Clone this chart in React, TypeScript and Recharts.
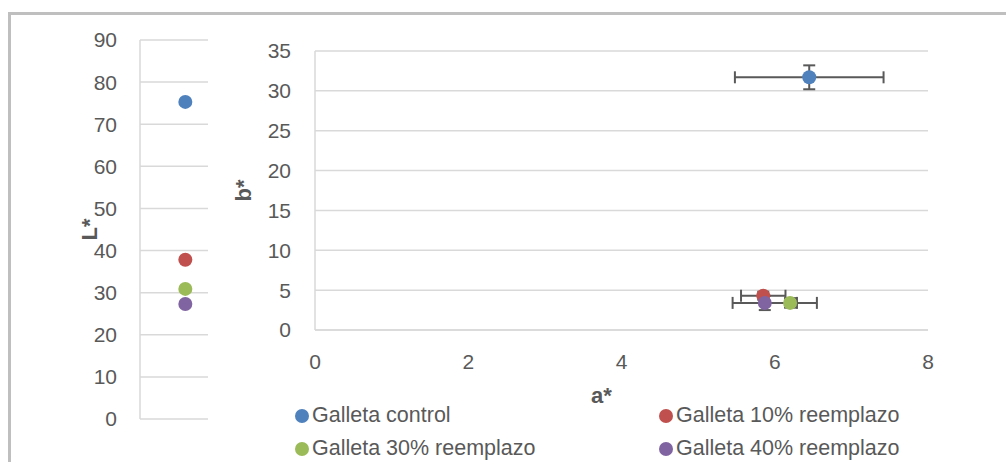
import {
  ScatterChart,
  Scatter,
  XAxis,
  YAxis,
  CartesianGrid,
  ErrorBar,
} from "recharts";

const SERIES = [
  "Galleta control",
  "Galleta 10% reemplazo",
  "Galleta 30% reemplazo",
  "Galleta 40% reemplazo",
];
const COLORS = ["#4f81bd", "#c0504d", "#9bbb59", "#8064a2"];

// L* (luminosity)
const L_VALUES = [75.3, 37.8, 30.9, 27.3];

// a* / b* with standard deviations
const A_VALUES = [6.45, 5.85, 6.2, 5.87];
const B_VALUES = [31.7, 4.3, 3.4, 3.4];
const A_ERR = [0.97, 0.29, 0.35, 0.42];
const B_ERR = [1.5, 0.5, 0.6, 0.9];

const L_TICKS = [0, 10, 20, 30, 40, 50, 60, 70, 80, 90];
const B_TICKS = [0, 5, 10, 15, 20, 25, 30, 35];
const A_TICKS = [0, 2, 4, 6, 8];

const FONT = "'Liberation Sans', Arial, sans-serif";
const TEXT = "#595959";
const GRID = "#d9d9d9";
const tickStyle = { fill: TEXT, fontSize: 21, fontFamily: FONT };
const titleStyle = {
  fill: TEXT,
  fontSize: 22,
  fontWeight: 700,
  fontFamily: FONT,
};

// Excel-style round marker
const dot = (color: string) => (p: any) =>
  <circle cx={p.cx} cy={p.cy} r={7} fill={color} />;

export default function App() {
  const leftData = L_VALUES.map((l) => [{ x: 1, l }]);
  const rightData = SERIES.map((_, i) => [
    { a: A_VALUES[i], b: B_VALUES[i], ea: A_ERR[i], eb: B_ERR[i] },
  ]);

  return (
    <div
      style={{
        position: "absolute",
        left: 0,
        top: 0,
        width: 1006,
        height: 462,
        overflow: "hidden",
        background: "#fff",
        fontFamily: FONT,
      }}
    >
      {/* frame */}
      <div
        style={{
          position: "absolute",
          left: 8,
          top: 12,
          width: 1100,
          height: 600,
          border: "3px solid #bfbfbf",
        }}
      />

      {/* L* panel */}
      <div style={{ position: "absolute", left: 0, top: 0 }}>
        <ScatterChart
          width={220}
          height={462}
          margin={{ top: 40, right: 12, bottom: 43, left: 80 }}
        >
          <CartesianGrid vertical={false} stroke={GRID} strokeWidth={1.5} />
          <XAxis type="number" dataKey="x" domain={[0, 1.5]} hide />
          <YAxis
            type="number"
            dataKey="l"
            width={60}
            domain={[0, 90]}
            ticks={L_TICKS}
            interval={0}
            axisLine={{ stroke: GRID, strokeWidth: 1.5 }}
            tickLine={false}
            tickSize={0}
            tickMargin={23}
            tick={tickStyle}
            label={{
              value: "L*",
              angle: -90,
              position: "insideLeft",
              offset: 9,
              style: { ...titleStyle, textAnchor: "middle" },
            }}
          />
          {leftData.map((d, i) => (
            <Scatter
              key={SERIES[i]}
              name={SERIES[i]}
              data={d}
              fill={COLORS[i]}
              shape={dot(COLORS[i])}
              isAnimationActive={false}
            />
          ))}
        </ScatterChart>
      </div>

      {/* a* / b* panel */}
      <div style={{ position: "absolute", left: 0, top: 0 }}>
        <ScatterChart
          width={1006}
          height={462}
          margin={{ top: 51, right: 78, bottom: 57, left: 230 }}
        >
          <CartesianGrid vertical={false} stroke={GRID} strokeWidth={1.5} />
          <XAxis
            type="number"
            dataKey="a"
            domain={[0, 8]}
            ticks={A_TICKS}
            interval={0}
            height={75}
            axisLine={{ stroke: GRID, strokeWidth: 1.5 }}
            tickLine={false}
            tickSize={0}
            tickMargin={24}
            tick={tickStyle}
            label={{
              value: "a*",
              position: "insideBottom",
              offset: 2,
              dx: -20,
              style: titleStyle,
            }}
          />
          <YAxis
            type="number"
            dataKey="b"
            width={85}
            domain={[0, 35]}
            ticks={B_TICKS}
            interval={0}
            axisLine={{ stroke: GRID, strokeWidth: 1.5 }}
            tickLine={false}
            tickSize={0}
            tickMargin={24}
            tick={tickStyle}
            label={{
              value: "b*",
              angle: -90,
              position: "insideLeft",
              offset: 13,
              style: { ...titleStyle, textAnchor: "middle" },
            }}
          />
          {rightData.map((d, i) => (
            <Scatter
              key={SERIES[i]}
              name={SERIES[i]}
              data={d}
              fill={COLORS[i]}
              shape={dot(COLORS[i])}
              isAnimationActive={false}
            >
              <ErrorBar
                dataKey="ea"
                direction="x"
                width={6}
                stroke={TEXT}
                strokeWidth={2}
              />
              <ErrorBar
                dataKey="eb"
                direction="y"
                width={6}
                stroke={TEXT}
                strokeWidth={2}
              />
            </Scatter>
          ))}
        </ScatterChart>
      </div>

      {/* legend */}
      <div
        style={{
          position: "absolute",
          left: 295,
          top: 399,
          display: "grid",
          gridTemplateColumns: "364px 364px",
          gridAutoRows: "33px",
        }}
      >
        {SERIES.map((name, i) => (
          <div
            key={name}
            style={{
              display: "flex",
              alignItems: "center",
              height: 33,
              fontSize: 21.5,
              lineHeight: "33px",
              color: TEXT,
              whiteSpace: "nowrap",
            }}
          >
            <span
              style={{
                display: "inline-block",
                width: 14,
                height: 14,
                borderRadius: "50%",
                background: COLORS[i],
                marginRight: 3,
              }}
            />
            {name}
          </div>
        ))}
      </div>
    </div>
  );
}
